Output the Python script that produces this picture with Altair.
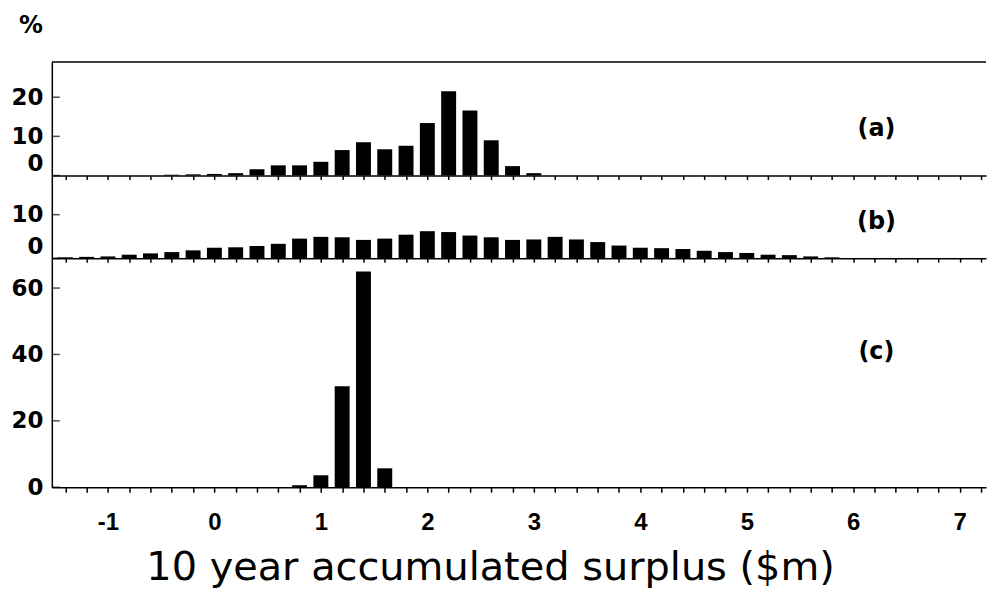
import altair as alt
import pandas as pd

# ---- data (bin centres in $m, values in %) ----
a_x = [-0.4, -0.2, 0.0, 0.2, 0.4, 0.6, 0.8, 1.0, 1.2, 1.4, 1.6, 1.8,
       2.0, 2.2, 2.4, 2.6, 2.8, 3.0]
a_pct = [0.2, 0.3, 0.4, 0.6, 1.6, 2.6, 2.6, 3.5, 6.5, 8.5, 6.7, 7.6,
         13.4, 21.5, 16.6, 9.0, 2.4, 0.6]

b_x = [-1.4, -1.2, -1.0, -0.8, -0.6, -0.4, -0.2, 0.0, 0.2, 0.4, 0.6, 0.8,
       1.0, 1.2, 1.4, 1.6, 1.8, 2.0, 2.2, 2.4, 2.6, 2.8, 3.0, 3.2, 3.4, 3.6,
       3.8, 4.0, 4.2, 4.4, 4.6, 4.8, 5.0, 5.2, 5.4, 5.6, 5.8]
b_pct = [0.2, 0.3, 0.4, 0.8, 1.1, 1.4, 1.8, 2.4, 2.5, 2.8, 3.3, 4.5,
         4.9, 4.8, 4.2, 4.5, 5.4, 6.2, 6.0, 5.2, 4.8, 4.2, 4.3, 4.9, 4.3, 3.7,
         2.9, 2.4, 2.3, 2.1, 1.7, 1.4, 1.2, 0.8, 0.7, 0.4, 0.2]

c_x = [0.8, 1.0, 1.2, 1.4, 1.6]
c_pct = [0.6, 3.6, 30.4, 65.0, 5.7]

x_ticks = [-1.4, -1.2, -1.0, -0.8, -0.6, -0.4, -0.2, 0.0, 0.2, 0.4, 0.6, 0.8,
           1.0, 1.2, 1.4, 1.6, 1.8, 2.0, 2.2, 2.4, 2.6, 2.8, 3.0, 3.2, 3.4,
           3.6, 3.8, 4.0, 4.2, 4.4, 4.6, 4.8, 5.0, 5.2, 5.4, 5.6, 5.8, 6.0,
           6.2, 6.4, 6.6, 6.8, 7.0, 7.2]
a_yticks = [0, 10, 20]
b_yticks = [0, 10]
c_yticks = [0, 20, 40, 60]
panel_labels = ["(a)", "(b)", "(c)"]
x_title = "10 year accumulated surplus ($m)"
y_title = "%"

W = 938
XDOM = [-1.48, 7.2]
YFONT = "DejaVu Sans"
XFONT = "Liberation Sans Narrow, Arial Narrow, Liberation Sans"


def panel(xs, vals, yticks, ydom, height, label, label_y, bottom=False, flush=True, top_rule=False):
    yscale = alt.Scale(domain=ydom, nice=False, zero=True)
    xscale = alt.Scale(domain=XDOM, nice=False, zero=False)
    df = pd.DataFrame({"x": xs, "v": vals})
    if bottom:
        xaxis = alt.Axis(values=x_ticks, labelExpr="abs(datum.value - round(datum.value)) < 0.01 ? toString(round(datum.value)) : ''",
                         tickSize=5, labelPadding=18, labelFont=XFONT, labelFontSize=24,
                         labelFontWeight="bold", labelAngle=0, grid=False,
                         title=x_title, titleFont=YFONT, titleFontSize=40,
                         titleFontWeight="normal", titleX=440, titleY=93,
                         titleAlign="center", titleBaseline="alphabetic")
    else:
        xaxis = alt.Axis(values=x_ticks, labels=False, tickSize=4, grid=False, title=None)
    yaxis = alt.Axis(values=yticks, ticks=False, labelFont=YFONT, labelFontSize=23,
                     labelFontWeight="bold", labelPadding=9, labelFlush=flush,
                     grid=False, title=None, domain=True)
    bars = alt.Chart(df).mark_bar(color="black", size=15, orient="vertical").encode(
        x=alt.X("x:Q", scale=xscale, axis=xaxis),
        y=alt.Y("v:Q", scale=yscale, axis=yaxis),
    )
    ticks = alt.Chart(pd.DataFrame({"v": yticks})).mark_tick(
        orient="horizontal", color="black", size=8, thickness=1.5
    ).encode(y=alt.Y("v:Q", scale=yscale, axis=yaxis), x=alt.value(4))
    txt = alt.Chart(pd.DataFrame({"t": [label]})).mark_text(
        font=YFONT, fontSize=24, fontWeight="bold", align="center", baseline="middle", color="black"
    ).encode(text="t:N", x=alt.value(828), y=alt.value(label_y))
    layers = [bars, ticks, txt]
    if top_rule:
        rule = alt.Chart(pd.DataFrame({"k": [0]})).mark_rule(color="black", strokeWidth=1.5).encode(
            x=alt.value(0), x2=alt.value(W), y=alt.value(0))
        layers.append(rule)
    return alt.layer(*layers).properties(width=W, height=height)


pa = panel(a_x, a_pct, a_yticks, [0, 29], 114, panel_labels[0], 67, top_rule=True)
pb = panel(b_x, b_pct, b_yticks, [0, 19], 83, panel_labels[1], 47)
pc = panel(c_x, c_pct, c_yticks, [0, 69], 230, panel_labels[2], 94, bottom=True, flush=False)

chart = alt.vconcat(
    pa, pb, pc, spacing=0, bounds="flush",
    title=alt.TitleParams(y_title, anchor="start", fontSize=24, font=YFONT,
                          fontWeight="bold", dx=8, offset=23, color="black"),
).properties(
    padding={"left": 2, "top": 5, "right": 0, "bottom": 5}
).configure_view(stroke=None).configure_axis(
    domainColor="black", domainWidth=1.5, tickColor="black", tickWidth=1.5,
    labelColor="black", titleColor="black", grid=False
)

chart.save("out.html", embed_options={"renderer": "svg", "actions": False})
